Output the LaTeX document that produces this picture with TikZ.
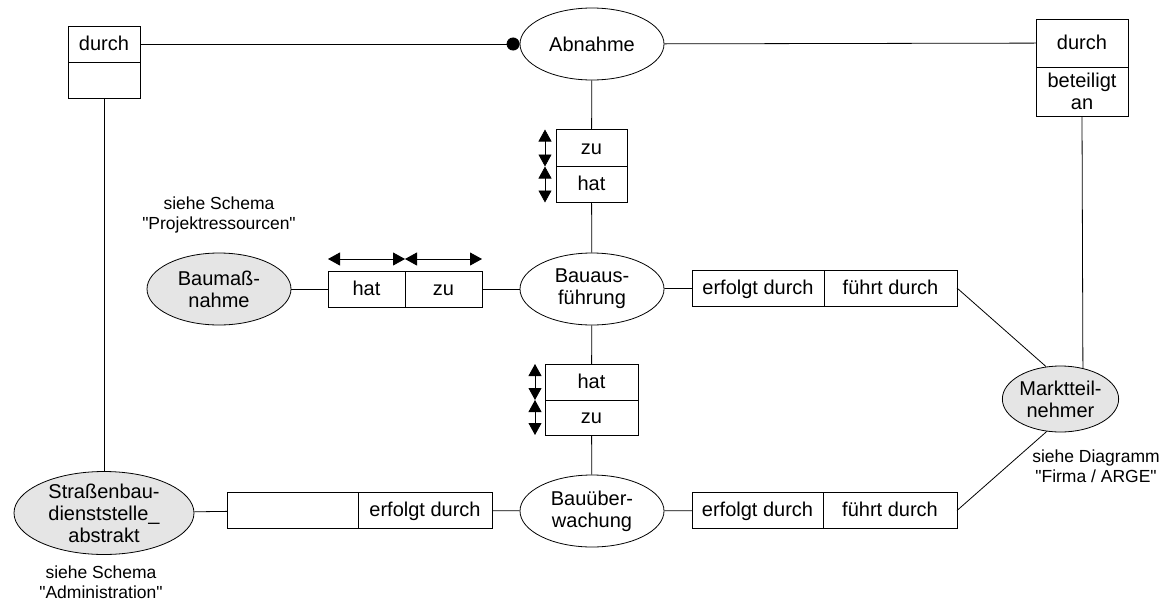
\documentclass[tikz,border=0pt]{standalone}
\usepackage{fontspec}
\setmainfont{Liberation Sans}
\usepackage{tikz}
\usetikzlibrary{shapes.geometric}
\usetikzlibrary{positioning}
\usetikzlibrary{arrows.meta}

\begin{document}
\begin{tikzpicture}[x=1pt, y=-1pt, line width=0.8pt,
        entity/.style={ellipse, draw, inner sep=0pt, minimum width=144pt, minimum height=72pt,
            align=center, font=\fontsize{20}{22}\selectfont},
        ext/.style={entity, fill=gray!20},
        cell/.style={rectangle, draw, inner sep=0pt, outer sep=0pt, minimum height=36pt,
            align=center, font=\fontsize{20}{22}\selectfont},
        word/.style={cell, text height=16pt, text depth=4pt},
        hint/.style={align=center, font=\fontsize{17.5}{20}\selectfont},
        dir/.style={{Triangle[width=13pt,length=12pt]}-{Triangle[width=13pt,length=12pt]}}]
            \useasboundingbox (0,0) rectangle (1176,600);

            \node[entity] (abn) at (592, 44) {Abnahme};
            \node[entity] (bauaus) at (592, 289) {Bauaus-\\führung};
            \node[entity] (bauueb) at (592, 511) {Bauüber-\\wachung};
            \node[ext] (baum) at (219, 289) {Baumaß-\\nahme};
            \node[ext, minimum width=180pt, minimum height=80pt] (strasse) at (104, 513)
                {Straßenbau-\\dienststelle\_\\abstrakt};
            \node[ext, minimum width=99pt, minimum height=66pt] (markt) at (1060.5, 399)
                {Marktteil-\\nehmer};

            \node[word, minimum width=72pt] (durchL1) at (104, 44) {durch};
            \node[word, minimum width=72pt, below=0pt of durchL1] (durchL2) {};
            \node[word, minimum width=92pt, minimum height=48pt] (durchR1) at (1082, 43) {durch};
            \node[cell, minimum width=92pt, minimum height=49pt, below=0pt of durchR1] (durchR2)
                {beteiligt\\an};

            \node[word, minimum width=71pt, minimum height=37pt] (zuA) at (591.5, 148) {zu};
            \node[word, minimum width=71pt, below=0pt of zuA] (hatA) {hat};
            \node[word, minimum width=93pt] (hatB) at (591.5, 382) {hat};
            \node[word, minimum width=93pt, minimum height=35pt, below=0pt of hatB] (zuB) {zu};
            \node[word, minimum width=77pt] (hatC) at (366.5, 289) {hat};
            \node[word, minimum width=77pt, right=0pt of hatC] (zuC) {zu};
            \node[word, minimum width=132pt] (erfA) at (758, 288) {erfolgt durch};
            \node[word, minimum width=133pt, right=0pt of erfA] (fuehrA) {führt durch};
            \node[word, minimum width=131pt] (leerD) at (292.5, 510.5) {};
            \node[word, minimum width=134pt, right=0pt of leerD] (erfD) {erfolgt durch};
            \node[word, minimum width=131pt] (erfE) at (757.5, 510.5) {erfolgt durch};
            \node[word, minimum width=134pt, right=0pt of erfE] (fuehrE) {führt durch};

            \node[hint] (hintP) at (219, 215) {siehe Schema\\\textquotedbl Projektressourcen\textquotedbl};
            \node[hint] (hintA) at (101, 582) {siehe Schema\\\textquotedbl Administration\textquotedbl};
            \node[hint] (hintF) at (1096, 466) {siehe Diagramm\\\textquotedbl Firma / ARGE\textquotedbl};

            \draw[-{Circle[length=13pt]}] (durchL1) -- (abn);
            \draw (abn) -- (durchR1);
            \draw (abn) -- (zuA);
            \draw (hatA) -- (bauaus);
            \draw (bauaus) -- (hatB);
            \draw (zuB) -- (bauueb);
            \draw (baum) -- (hatC);
            \draw (zuC) -- (bauaus);
            \draw (bauaus) -- (erfA);
            \draw (fuehrA.east) -- (markt.114);
            \draw (durchL2) -- (strasse);
            \draw (durchR2.south) -- (markt.54);
            \draw (strasse) -- (leerD);
            \draw (erfD) -- (bauueb);
            \draw (bauueb) -- (erfE);
            \draw (fuehrE.east) -- (markt.247);

            \draw[dir] ([xshift=-11pt]zuA.north west) -- ([xshift=-11pt]zuA.south west);
            \draw[dir] ([xshift=-11pt]hatA.north west) -- ([xshift=-11pt]hatA.south west);
            \draw[dir] ([xshift=-10pt]hatB.north west) -- ([xshift=-10pt]hatB.south west);
            \draw[dir] ([xshift=-10pt]zuB.north west) -- ([xshift=-10pt]zuB.south west);
            \draw[dir] ([yshift=12pt]hatC.north west) -- ([yshift=12pt]hatC.north east);
            \draw[dir] ([yshift=12pt]zuC.north west) -- ([yshift=12pt]zuC.north east);
        \end{tikzpicture}
\end{document}
